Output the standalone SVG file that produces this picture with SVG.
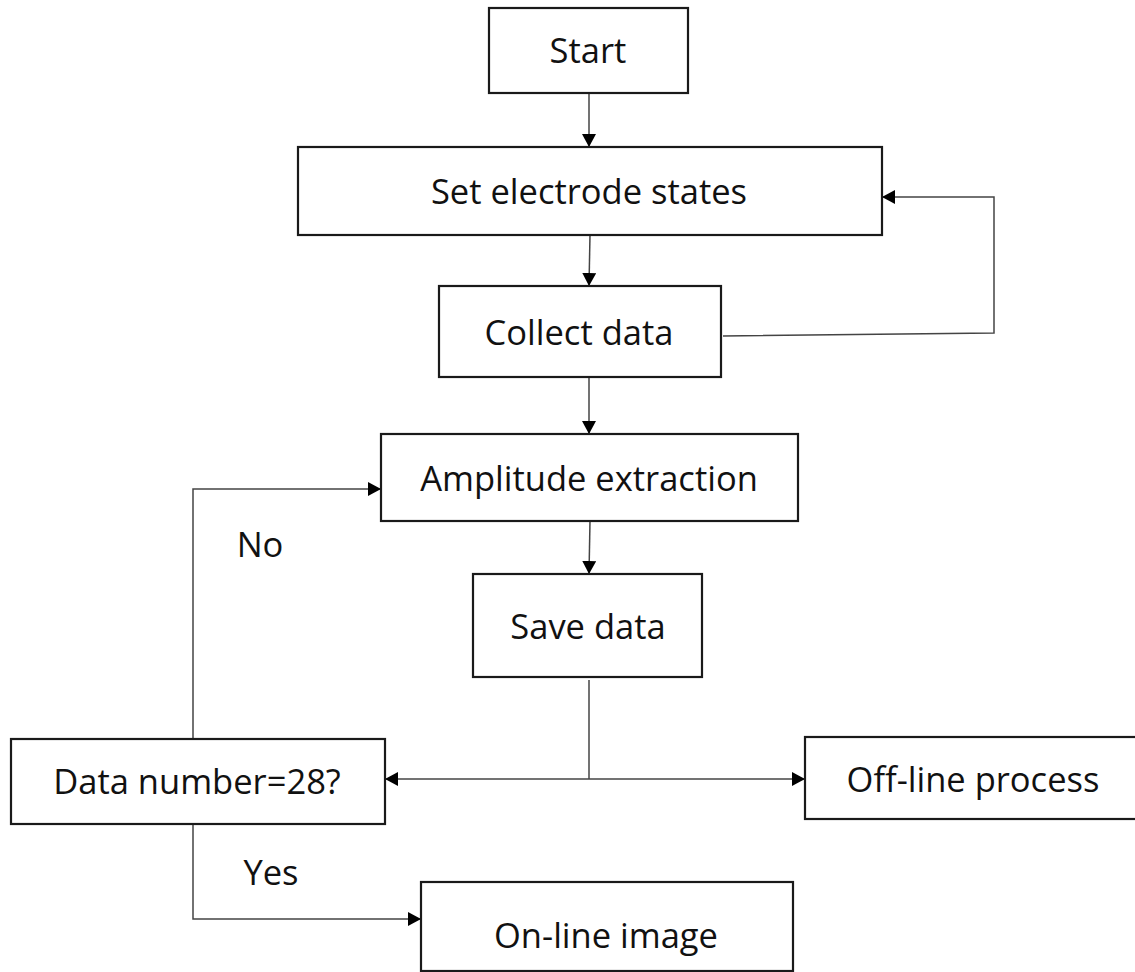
<svg xmlns="http://www.w3.org/2000/svg" width="1135" height="972" viewBox="0 0 1135 972">
  <defs>
    <marker id="arr" markerWidth="14" markerHeight="14" refX="13" refY="7" orient="auto" markerUnits="userSpaceOnUse">
      <path d="M0,0 L13,7 L0,14 Z" fill="#000"/>
    </marker>
    <style>
      .box { fill: #fff; stroke: #1a1a1a; stroke-width: 2.2; }
      .lbl { font-family: "Open Sans", "Noto Sans", "Liberation Sans", sans-serif; font-size: 34.5px; fill: #111; text-anchor: middle; }
      .con { fill: none; stroke: #444; stroke-width: 1.5; }
      .arw { marker-end: url(#arr); }
    </style>
  </defs>
  <rect width="1135" height="972" fill="#fff"/>

  <g id="connectors">
    <path class="con arw" d="M589,93 L589,147"/>
    <path class="con arw" d="M590,235 L589,286"/>
    <path class="con arw" d="M589,377 L589,434"/>
    <path class="con arw" d="M590,521 L589,574"/>
    <path class="con arw" d="M723,336 L994,333 L994,197 L882,197"/>
    <path class="con" d="M589,680 L589,779"/>
    <path class="con arw" d="M589,779 L385,779"/>
    <path class="con arw" d="M589,779 L805,779"/>
    <path class="con arw" d="M193,739 L193,489 L381,489"/>
    <path class="con arw" d="M193,824 L193,919 L421,919"/>
  </g>

  <g id="start">
    <rect class="box" x="489" y="8" width="199" height="85"/>
    <text class="lbl" x="588" y="63">Start</text>
  </g>
  <g id="set-electrode-states">
    <rect class="box" x="298" y="147" width="584" height="88"/>
    <text class="lbl" x="589" y="204">Set electrode states</text>
  </g>
  <g id="collect-data">
    <rect class="box" x="439" y="286" width="282" height="91"/>
    <text class="lbl" x="579" y="345">Collect data</text>
  </g>
  <g id="amplitude-extraction">
    <rect class="box" x="381" y="434" width="417" height="87"/>
    <text class="lbl" x="589" y="491">Amplitude extraction</text>
  </g>
  <g id="save-data">
    <rect class="box" x="473" y="574" width="229" height="103"/>
    <text class="lbl" x="588" y="639">Save data</text>
  </g>
  <g id="data-number">
    <rect class="box" x="11" y="739" width="374" height="85"/>
    <text class="lbl" x="197" y="794">Data number=28?</text>
  </g>
  <g id="off-line-process">
    <rect class="box" x="805" y="737" width="345" height="82"/>
    <text class="lbl" x="973" y="792">Off-line process</text>
  </g>
  <g id="on-line-image">
    <rect class="box" x="421" y="882" width="372" height="89"/>
    <text class="lbl" x="606" y="948">On-line image</text>
  </g>
  <g id="edge-labels">
    <text class="lbl" x="260" y="557">No</text>
    <text class="lbl" x="271" y="885">Yes</text>
  </g>
</svg>
